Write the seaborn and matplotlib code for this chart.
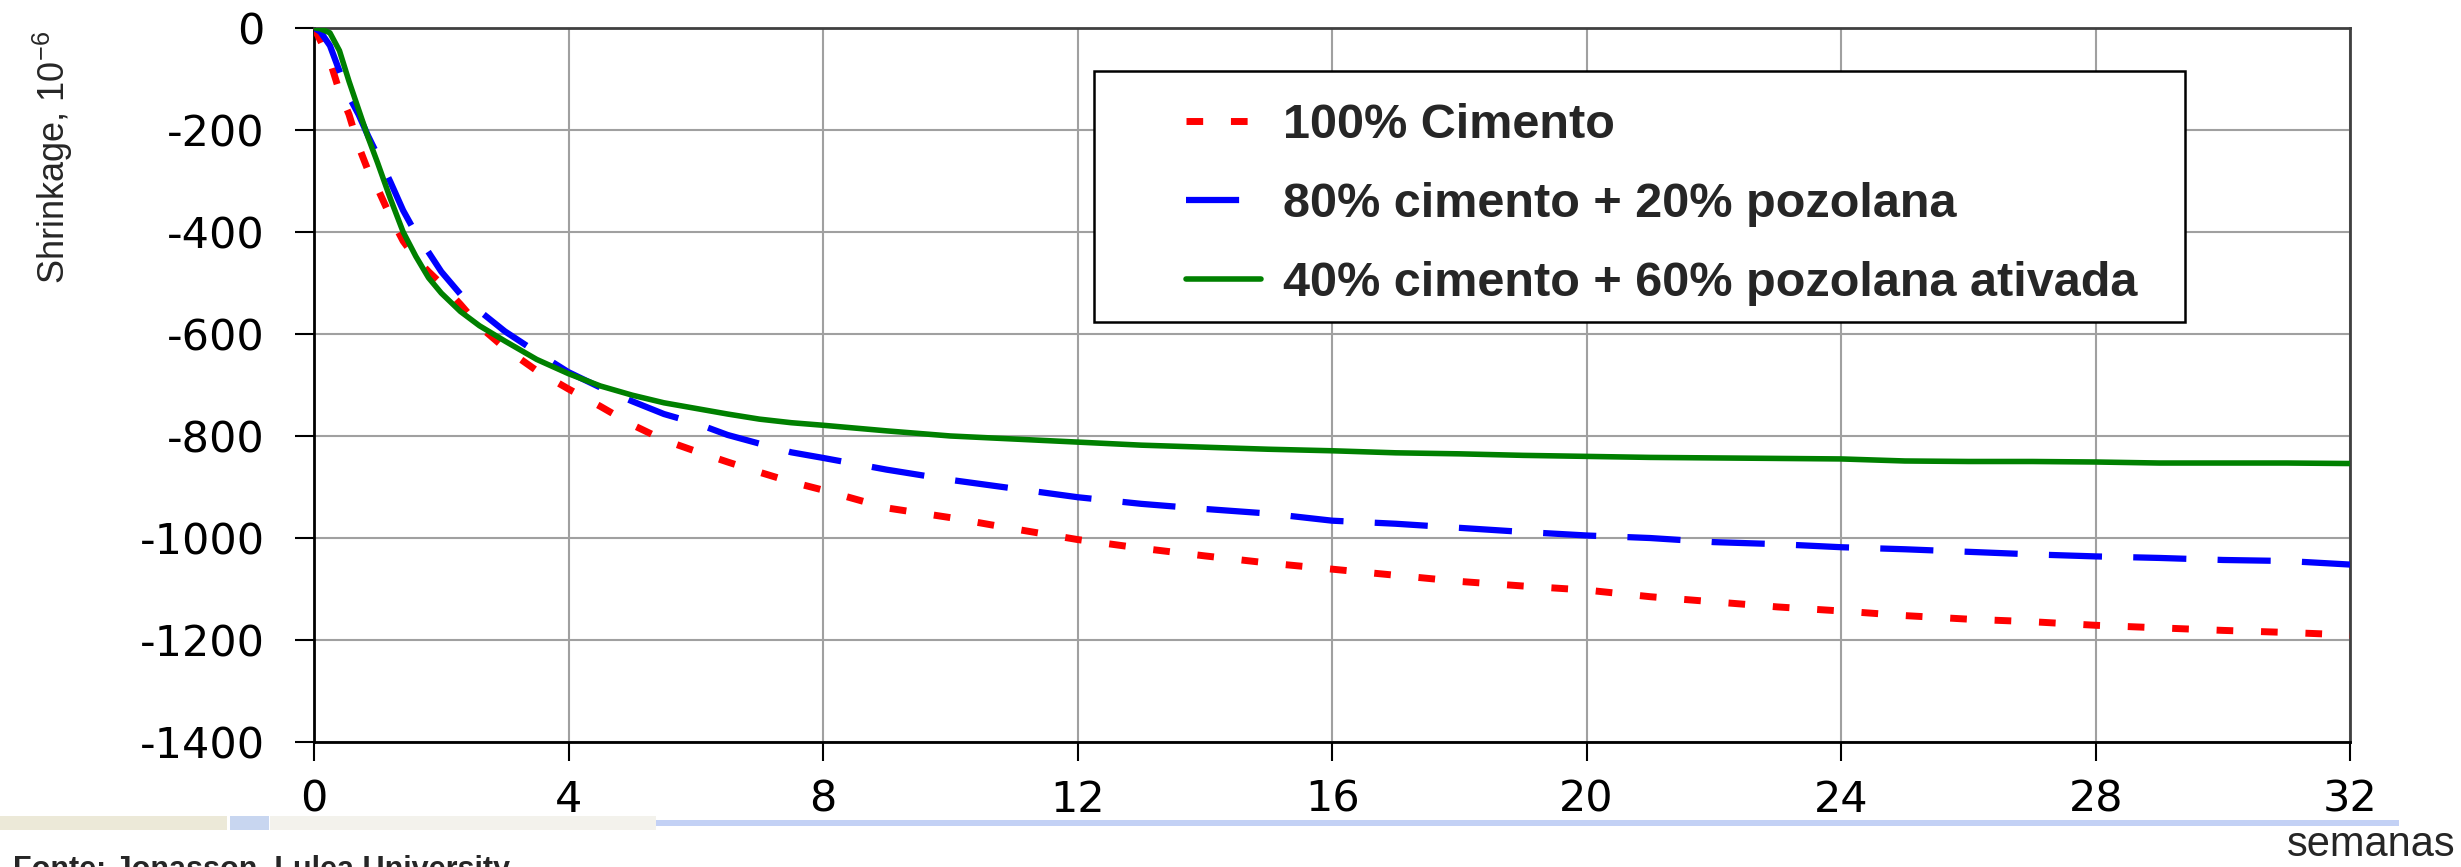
import matplotlib.pyplot as plt
import matplotlib.patches as patches
import seaborn as sns

sns.set_style("ticks")
plt.rcParams["font.family"] = ["Liberation Sans", "DejaVu Sans"]
plt.rcParams["axes.unicode_minus"] = False

# Data (weeks vs shrinkage, 10^-6)
weeks = [0, 0.1, 0.25, 0.4, 0.55, 0.7, 0.85, 1.0, 1.2, 1.4, 1.6, 1.8, 2.0, 2.3, 2.6,
         3.0, 3.5, 4, 4.5, 5, 5.5, 6, 6.5, 7, 7.5, 8, 9, 10, 11, 12, 13, 14, 15, 16,
         17, 18, 19, 20, 21, 22, 23, 24, 25, 26, 27, 28, 29, 30, 31, 32]
cimento_100 = [0, -25, -65, -125, -170, -232, -280, -315, -370, -418, -452, -478, -502,
               -542, -585, -628, -672, -708, -742, -778, -808, -830, -851, -871, -890,
               -906, -941, -960, -982, -1003, -1020, -1035, -1049, -1061, -1073, -1085,
               -1094, -1102, -1115, -1125, -1135, -1143, -1152, -1159, -1164, -1171,
               -1176, -1181, -1185, -1190]
cimento_80 = [0, -8, -35, -85, -135, -170, -212, -250, -302, -358, -403, -440, -478,
              -522, -555, -595, -636, -675, -705, -732, -757, -775, -798, -815, -832,
              -843, -866, -886, -903, -920, -933, -943, -952, -966, -972, -980, -988,
              -995, -1000, -1008, -1012, -1018, -1022, -1027, -1032, -1036, -1039,
              -1043, -1045, -1052]
cimento_40 = [0, -2, -10, -45, -105, -160, -215, -265, -335, -400, -448, -490, -520,
              -556, -584, -614, -650, -678, -702, -720, -735, -746, -757, -767, -774,
              -779, -790, -800, -806, -812, -818, -822, -826, -829, -833, -835, -838,
              -840, -842, -843, -844, -845, -849, -850, -850, -851, -853, -853, -853,
              -854]
series_labels = ["100% Cimento", "80% cimento + 20% pozolana",
                 "40% cimento + 60% pozolana ativada"]
x_ticks = list(range(0, 33, 4))
y_ticks = list(range(-1400, 1, 200))

fig = plt.figure(figsize=(24.61, 8.67), dpi=100)
ax = fig.add_axes([0.1276, 0.144, 0.8274, 0.824])

sns.lineplot(x=weeks, y=cimento_100, color="#FF0000", lw=5, linestyle=(0, (2.4, 4)),
             label=series_labels[0], estimator=None, ax=ax, zorder=3)
sns.lineplot(x=weeks, y=cimento_80, color="#0000FF", lw=4.5, linestyle=(0, (8.5, 5)),
             label=series_labels[1], estimator=None, ax=ax, zorder=3)
sns.lineplot(x=weeks, y=cimento_40, color="#008000", lw=4, linestyle="-",
             label=series_labels[2], estimator=None, ax=ax, zorder=3)

ax.set_xlim(0, 32)
ax.set_ylim(-1400, 0)
ax.set_xticks(x_ticks)
ax.set_yticks(y_ticks)
ax.set_xlabel("")
ax.set_ylabel("")
ax.grid(True, color="#A0A0A0", lw=1.5)
ax.tick_params(axis="both", labelsize=31, length=13.5, width=1.5, direction="out",
               colors="black")
ax.tick_params(axis="y", pad=22)
ax.tick_params(axis="x", pad=13)
for lab in ax.get_xticklabels() + ax.get_yticklabels():
    lab.set_family("DejaVu Sans")
for side in ["left", "bottom"]:
    ax.spines[side].set_color("black")
    ax.spines[side].set_linewidth(2)
for side in ["top", "right"]:
    ax.spines[side].set_color("#404040")
    ax.spines[side].set_linewidth(2)

# Legend box
ax.add_patch(patches.Rectangle((0.383, 0.588), 0.536, 0.352, transform=ax.transAxes,
                               facecolor="white", edgecolor="black", lw=1.8, zorder=4))
leg = ax.legend(loc="upper left", bbox_to_anchor=(0.428, 0.895), frameon=False,
                borderpad=0, borderaxespad=0, handlelength=1.55, handletextpad=0.45,
                labelspacing=0.7, prop={"weight": "bold", "size": 35})
leg.set_zorder(5)

fig.text(0.0215, 0.818, r"Shrinkage, 10$^{\mathregular{-6}}$", rotation=90,
         fontsize=26, ha="center", va="center")
fig.text(0.9634, 0.0254, "semanas", fontsize=30, ha="center", va="center")
fig.text(0.0053, 0.0138, "Fonte: Jonasson, Lulea University", fontsize=22,
         fontweight="bold", ha="left", va="top")

# screenshot strip at the bottom
fig.add_artist(patches.Rectangle((0, 0.0427), 0.0922, 0.016, transform=fig.transFigure,
                                 facecolor="#ECE9D8", edgecolor="none"))
fig.add_artist(patches.Rectangle((0.0935, 0.0427), 0.016, 0.016, transform=fig.transFigure,
                                 facecolor="#C8D6F0", edgecolor="none"))
fig.add_artist(patches.Rectangle((0.1097, 0.0427), 0.157, 0.016, transform=fig.transFigure,
                                 facecolor="#F3F2EC", edgecolor="none"))
fig.add_artist(patches.Rectangle((0.2667, 0.0474), 0.708, 0.0069, transform=fig.transFigure,
                                 facecolor="#C3D1F5", edgecolor="none"))

plt.savefig("out.png", dpi=100)
print("Plot saved to out.png")
